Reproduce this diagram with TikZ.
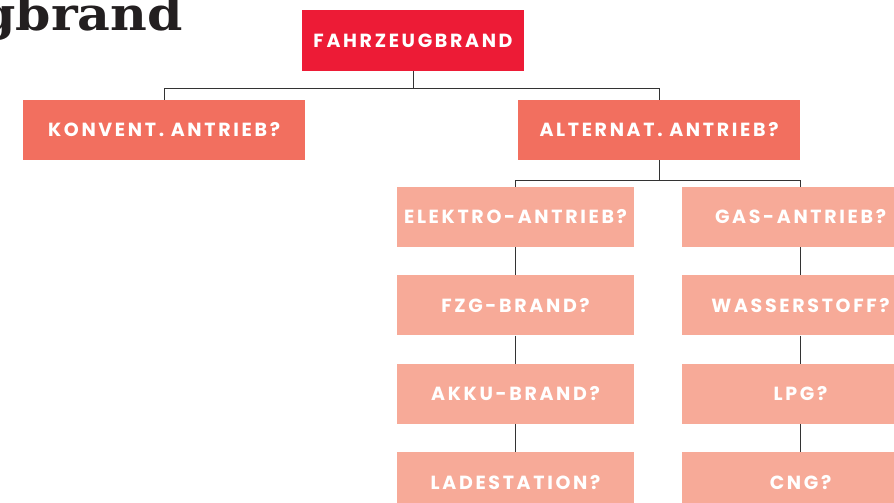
\documentclass[tikz,border=0pt]{standalone}
\usepackage{fontspec}
\usetikzlibrary{positioning,calc}
\newfontfamily\boxfont{Poppins}[LetterSpace=14]
\newfontfamily\titlefont{DejaVu Serif}
\definecolor{fzgred}{HTML}{ED1B36}
\definecolor{mainred}{HTML}{F26F5F}
\definecolor{subred}{HTML}{F7AA98}
\definecolor{linegray}{HTML}{333333}
\definecolor{titleblack}{HTML}{231F20}

\tikzset{
  topbox/.style={rectangle, fill=fzgred, text=white, inner sep=0pt,
    minimum width=222bp, minimum height=61bp,
    font=\boxfont\bfseries\fontsize{19bp}{21bp}\selectfont},
  mainbox/.style={topbox, fill=mainred, minimum width=282bp, minimum height=60bp},
  subbox/.style={topbox, fill=subred, minimum width=237bp, minimum height=60bp},
  tree/.style={draw=linegray, line width=1bp}
}

\begin{document}
\begin{tikzpicture}[x=1bp,y=-1bp]
\useasboundingbox (0,0) rectangle (894,503);
\clip (0,0) rectangle (894,503);

\node[anchor=base east, inner sep=0pt, text=titleblack, xscale=1.1, transform shape,
  font=\titlefont\bfseries\fontsize{46bp}{50bp}\selectfont] (titel) at (183,31) {gbrand};

\node[topbox] (fzb) at (413,40.5) {FAHRZEUGBRAND};
\node[mainbox] (konv) at (164,130) {KONVENT. ANTRIEB?};
\node[mainbox] (alt) at (659,130) {ALTERNAT. ANTRIEB?};

% linke Spalte
\node[subbox] (elek) at (515.5,217) {ELEKTRO-ANTRIEB?};
\node[subbox, below=28bp of elek] (fzg) {FZG-BRAND?};
\node[subbox, below=28bp of fzg] (akku) {AKKU-BRAND?};
\node[subbox, below=28bp of akku] (lade) {LADESTATION?};

% rechte Spalte
\node[subbox] (gas) at (800.5,217) {GAS-ANTRIEB?};
\node[subbox, below=28bp of gas] (wass) {WASSERSTOFF?};
\node[subbox, below=28bp of wass] (lpg) {LPG?};
\node[subbox, below=28bp of lpg] (cng) {CNG?};

\draw[tree] (fzb.south) -- ++(0,17) coordinate (k1);
\draw[tree] (konv.north) |- (k1) -| (alt.north);
\draw[tree] (alt.south) -- ++(0,20) coordinate (k2);
\draw[tree] (elek.north) |- (k2) -| (gas.north);

\foreach \a/\b in {elek/fzg,fzg/akku,akku/lade,gas/wass,wass/lpg,lpg/cng}
  \draw[tree] (\a.south) -- (\b.north);

\end{tikzpicture}
\end{document}
